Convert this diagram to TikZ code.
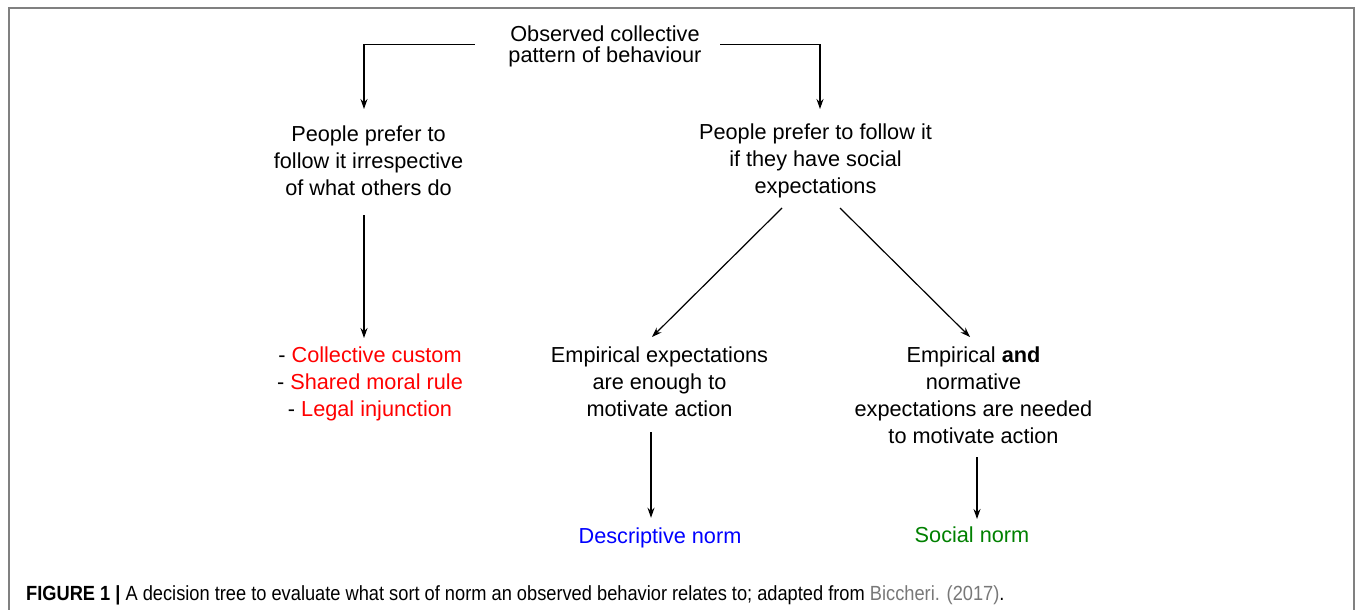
\documentclass[tikz,border=0pt]{standalone}
\usepackage{fontspec}
\setmainfont{Liberation Sans}
\newfontfamily\capfont[FakeStretch=0.89]{Liberation Sans}
\usetikzlibrary{arrows.meta}
\definecolor{framegray}{RGB}{128,128,128}
\definecolor{normred}{RGB}{255,0,0}
\definecolor{normblue}{RGB}{0,0,255}
\definecolor{normgreen}{RGB}{0,128,0}
\definecolor{citegray}{RGB}{120,120,120}
\newcommand\fstrut{\rule{0pt}{20pt}}
\begin{document}
\begin{tikzpicture}[x=1pt,y=-1pt,
  txt/.style={align=center, inner sep=0pt, outer sep=0pt, anchor=north, font=\fontsize{21.7}{27}\selectfont},
  single/.style={inner sep=0pt, outer sep=0pt, anchor=base, font=\fontsize{21.7}{27}\selectfont},
  arr/.style={line width=1.2pt, -{Stealth[length=10pt,width=7pt]}},
  frame/.style={draw=framegray, line width=1.5pt}]
\useasboundingbox (0,0) rectangle (1355,610);
\draw[frame] (9,615) -- (9,8) -- (1354,8) -- (1354,615);

\node[txt, font=\fontsize{21.7}{20.5}\selectfont] (root) at (605,22) {\fstrut Observed collective\\pattern of behaviour};
\node[txt] (left) at (368.5,121) {\fstrut People prefer to\\follow it irrespective\\of what others do};
\node[txt] (right) at (815.5,119) {\fstrut People prefer to follow it\\if they have social\\expectations};
\node[txt] (list) at (370,342) {\fstrut - \textcolor{normred}{Collective custom}\\- \textcolor{normred}{Shared moral rule}\\- \textcolor{normred}{Legal injunction}};
\node[txt] (emp) at (659.5,342) {\fstrut Empirical expectations\\are enough to\\motivate action};
\node[txt] (both) at (973.5,342) {\fstrut Empirical \textbf{and}\\normative\\expectations are needed\\to motivate action};
\node[single, text=normblue] (desc) at (660,543) {Descriptive norm};
\node[single, text=normgreen] (social) at (972,542) {Social norm};

\node[anchor=base west, inner sep=0pt, font=\capfont\fontsize{20.5}{24}\selectfont] (cap) at (26,600)
  {\textbf{FIGURE 1 |} A decision tree to evaluate what sort of norm an observed behavior relates to; adapted from \textcolor{citegray}{Biccheri. (2017)}.};

\draw[arr] ([xshift=-33.5pt]root.west) -| ([xshift=-4.5pt,yshift=12pt]left.north);
\draw[arr] ([xshift=18.5pt]root.east) -| ([xshift=4.5pt,yshift=10pt]right.north);
\draw[arr] ([xshift=-4.5pt,yshift=-20pt]left.south) -- ([xshift=-6pt,yshift=4pt]list.north);
\draw[arr] ([xshift=-33.5pt,yshift=-10.5pt]right.south) -- ([xshift=-7.5pt,yshift=5pt]emp.north);
\draw[arr] ([xshift=24.5pt,yshift=-10.5pt]right.south) -- ([xshift=-3.5pt,yshift=5pt]both.north);
\draw[arr] ([xshift=-8.5pt,yshift=-16pt]emp.south) -- ([xshift=-9pt,yshift=9.5pt]desc.north);
\draw[arr] ([xshift=3.5pt,yshift=-14pt]both.south) -- ([xshift=5pt,yshift=7.3pt]social.north);
\end{tikzpicture}
\end{document}
